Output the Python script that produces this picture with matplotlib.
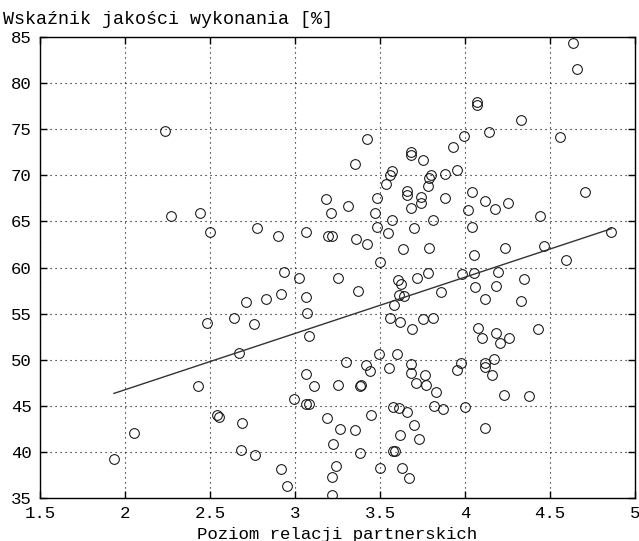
import numpy as np
import matplotlib
matplotlib.use("Agg")
import matplotlib.pyplot as plt

# Partnership relation level (x) vs. performance quality index in % (y)
relacje = [
    1.935, 2.055, 2.235, 2.27, 2.43, 2.44, 2.48, 2.50, 2.54, 2.555,
    2.64, 2.67, 2.68, 2.69, 2.71, 2.76, 2.765, 2.775, 2.83, 2.90,
    2.92, 2.92, 2.935, 2.955, 2.996, 3.025, 3.065, 3.065, 3.07, 3.065,
    3.08, 3.065, 3.08, 3.11, 3.18, 3.186, 3.196, 3.215, 3.21, 3.225,
    3.216, 3.22, 3.24, 3.25, 3.25, 3.265, 3.30, 3.31, 3.35, 3.35,
    3.36, 3.37, 3.38, 3.387, 3.38, 3.425, 3.425, 3.42, 3.44, 3.447,
    3.47, 3.48, 3.48, 3.496, 3.50, 3.50, 3.535, 3.545, 3.555, 3.56,
    3.56, 3.57, 3.57, 3.575, 3.575, 3.58, 3.59, 3.60, 3.605, 3.61,
    3.61, 3.62, 3.62, 3.625, 3.63, 3.637, 3.64, 3.66, 3.66, 3.66,
    3.67, 3.68, 3.68, 3.68, 3.685, 3.685, 3.69, 3.70, 3.70, 3.71,
    3.72, 3.73, 3.74, 3.74, 3.75, 3.755, 3.765, 3.77, 3.78, 3.785,
    3.79, 3.79, 3.80, 3.81, 3.81, 3.82, 3.83, 3.86, 3.87, 3.88,
    3.88, 3.93, 3.95, 3.955, 3.975, 3.98, 3.996, 4.0, 4.02, 4.04,
    4.04, 4.05, 4.055, 4.06, 4.07, 4.07, 4.075, 4.10, 4.12, 4.12,
    4.12, 4.12, 4.12, 4.14, 4.16, 4.17, 4.175, 4.18, 4.18, 4.196,
    4.206, 4.23, 4.235, 4.255, 4.26, 4.33, 4.33, 4.35, 4.378, 4.43,
    4.44, 4.465, 4.56, 4.594, 4.633, 4.657, 4.706, 4.86,
]
jakosc = [
    39.2, 42.1, 74.85, 65.6, 47.2, 65.9, 54.0, 63.9, 44.0, 43.8,
    54.5, 50.7, 40.2, 43.1, 56.3, 53.9, 39.7, 64.3, 56.55, 63.4,
    57.1, 38.1, 59.5, 36.3, 45.7, 58.9, 63.9, 56.8, 55.1, 48.45,
    52.6, 45.2, 45.2, 47.1, 67.4, 43.7, 63.4, 63.4, 65.9, 40.9,
    37.3, 35.3, 38.5, 47.3, 58.9, 42.45, 49.7, 66.7, 71.2, 42.4,
    63.1, 57.45, 39.85, 47.3, 47.2, 73.95, 62.5, 49.4, 48.8, 44.0,
    65.95, 67.5, 64.4, 50.6, 60.6, 38.2, 69.1, 63.7, 49.1, 70.0,
    54.5, 70.5, 65.2, 44.9, 40.1, 55.9, 40.1, 50.6, 58.6, 44.8,
    57.0, 41.8, 54.1, 58.2, 38.3, 62.0, 56.9, 44.3, 68.3, 67.9,
    37.2, 66.5, 49.5, 48.6, 72.5, 72.2, 53.35, 64.3, 42.9, 47.5,
    58.9, 41.4, 67.6, 66.96, 71.7, 54.4, 48.3, 47.25, 68.8, 59.4,
    69.7, 62.15, 70.0, 65.1, 54.55, 45.0, 46.5, 57.3, 44.7, 67.5,
    70.1, 73.05, 48.9, 70.6, 49.6, 59.3, 74.3, 44.9, 66.2, 68.2,
    64.4, 61.35, 59.4, 57.85, 77.9, 77.6, 53.4, 52.4, 56.6, 67.25,
    49.6, 49.25, 42.6, 74.65, 48.35, 50.1, 66.35, 52.9, 58.0, 59.55,
    51.8, 46.2, 62.1, 66.96, 52.3, 76.0, 56.4, 58.8, 46.1, 53.3,
    65.6, 62.3, 74.1, 60.8, 84.4, 81.5, 68.2, 63.9,
]

x_ticks = [1.5, 2, 2.5, 3, 3.5, 4, 4.5, 5]
y_ticks = [35, 40, 45, 50, 55, 60, 65, 70, 75, 80, 85]
x_tick_labels = ["1.5", "2", "2.5", "3", "3.5", "4", "4.5", "5"]
y_tick_labels = [str(v) for v in y_ticks]

ylabel_text = "Wskaźnik jakości wykonania [%]"
xlabel_text = "Poziom relacji partnerskich"

x = np.asarray(relacje)
y = np.asarray(jakosc)

mono = "Liberation Mono"
fs = 12.5

fig = plt.figure(figsize=(6.39, 5.41), dpi=100)
ax = fig.add_axes([40 / 639, 43 / 541, 595 / 639, 461 / 541])

ax.plot(x, y, linestyle="none", marker="o", markersize=7,
        markerfacecolor="none", markeredgecolor="#111111", markeredgewidth=0.75)

# least-squares trend line over the data range
b, a = np.polyfit(x, y, 1)
xl = np.array([x.min(), x.max()])
ax.plot(xl, a + b * xl, color="#333333", linewidth=1.0)

ax.set_xlim(1.5, 5)
ax.set_ylim(35, 85)
ax.set_xticks(x_ticks)
ax.set_xticklabels(x_tick_labels, fontfamily=mono, fontsize=fs)
ax.set_yticks(y_ticks)
ax.set_yticklabels(y_tick_labels, fontfamily=mono, fontsize=fs)
ax.tick_params(direction="in", length=5, width=1, top=True, right=True,
               pad=6, colors="black")
ax.grid(True, color="black", linestyle=(0, (1, 3.5)), linewidth=0.8)
for s in ax.spines.values():
    s.set_linewidth(1.0)
    s.set_color("black")

fig.text(3 / 639, 1 - 24 / 541, ylabel_text, fontfamily=mono, fontsize=13.2,
         ha="left", va="baseline")
fig.text(337 / 639, 1 - 539 / 541, xlabel_text, fontfamily=mono, fontsize=fs,
         ha="center", va="baseline")

fig.savefig("out.png", dpi=100)
